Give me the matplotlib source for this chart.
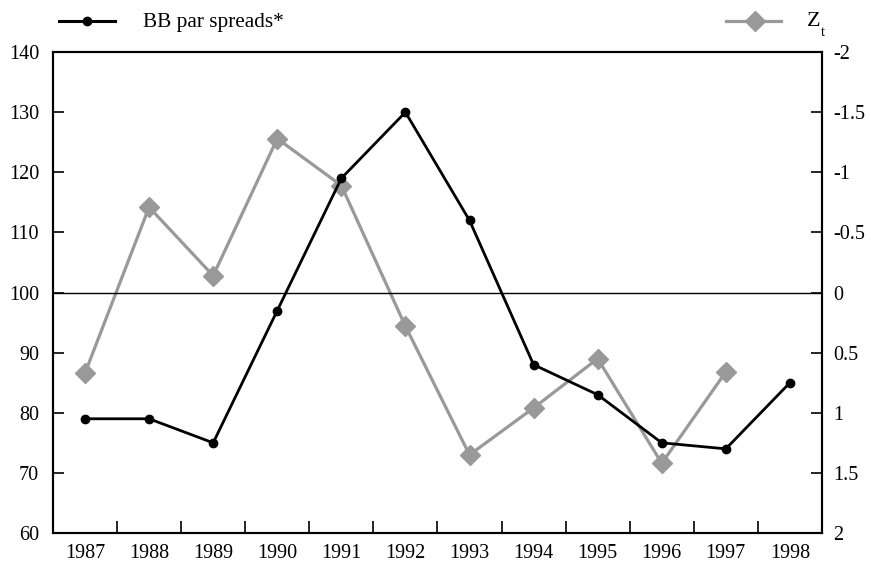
import numpy as np
import matplotlib
matplotlib.use("Agg")
import matplotlib.pyplot as plt
from matplotlib.lines import Line2D

plt.rcParams['font.family'] = ['Liberation Serif', 'DejaVu Serif']

years = ['1987', '1988', '1989', '1990', '1991', '1992',
         '1993', '1994', '1995', '1996', '1997', '1998']
bb_spreads = [79, 79, 75, 97, 119, 130, 112, 88, 83, 75, 74, 85]
z_t = [0.67, -0.71, -0.14, -1.28, -0.89, 0.28,
       1.35, 0.96, 0.55, 1.42, 0.66]

fs = 14.5
grey = '#999999'

fig = plt.figure(figsize=(8.71, 5.66), dpi=100)
ax = fig.add_axes([0.0608, 0.0583, 0.8829, 0.8497])
ax2 = ax.twinx()

x = np.arange(len(years))

# Z_t on the inverted right axis, drawn first so the spreads sit on top
ax2.plot(x[:len(z_t)], z_t, color=grey, lw=2.3, marker='D', ms=10,
         markeredgecolor=grey, zorder=2)
ax2.set_ylim(2, -2)
ax2.set_yticks([2, 1.5, 1, 0.5, 0, -0.5, -1, -1.5, -2])
ax2.set_yticklabels(['2', '1.5', '1', '0.5', '0', '-0.5', '-1', '-1.5', '-2'])
ax2.tick_params(axis='y', direction='in', length=8, width=1.2,
                labelsize=fs, pad=8)

ax.set_zorder(ax2.get_zorder() + 1)
ax.patch.set_visible(False)
ax.plot(x, bb_spreads, color='black', lw=2, marker='o', ms=6, zorder=3)
ax.axhline(100, color='black', lw=1, zorder=1)

ax.set_xlim(-0.5, len(years) - 0.5)
ax.set_ylim(60, 140)
ax.set_yticks(range(60, 141, 10))
ax.tick_params(axis='y', direction='in', length=8, width=1.2,
               labelsize=fs, pad=10)

# year labels centred, tick marks on the category boundaries
ax.set_xticks(x)
ax.set_xticklabels(years)
ax.tick_params(axis='x', which='major', length=0, labelsize=fs, pad=8)
ax.set_xticks(np.arange(0.5, len(years) - 0.5), minor=True)
ax.tick_params(axis='x', which='minor', direction='in', length=9, width=1.2)

for a in (ax, ax2):
    for s in a.spines.values():
        s.set_linewidth(1.5)

# legend row above the plot
leg_y = 1 - 21 / 566
fig.add_artist(Line2D([59 / 871, 115 / 871], [leg_y, leg_y],
                      color='black', lw=2.2, transform=fig.transFigure))
fig.add_artist(Line2D([87 / 871], [leg_y], color='black', marker='o',
                      ms=6, ls='none', transform=fig.transFigure))
fig.text(143 / 871, leg_y - 0.002, 'BB par spreads*', fontsize=15.3,
         va='center', ha='left')

fig.add_artist(Line2D([726 / 871, 781 / 871], [leg_y, leg_y],
                      color=grey, lw=2.3, transform=fig.transFigure))
fig.add_artist(Line2D([755 / 871], [leg_y], color=grey, marker='D',
                      ms=10, ls='none', transform=fig.transFigure))
fig.text(807 / 871, leg_y, 'Z', fontsize=fs + 1.5, va='center', ha='left')
fig.text(821 / 871, 1 - 33 / 566, 't', fontsize=fs - 4, va='center',
         ha='left')

fig.savefig('out.png', dpi=100)
